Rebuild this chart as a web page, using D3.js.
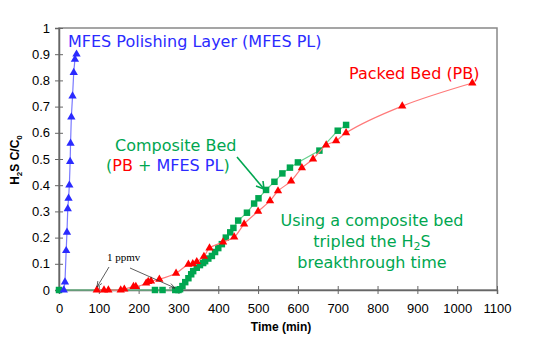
<!DOCTYPE html>
<html><head><meta charset="utf-8">
<script src="https://cdn.jsdelivr.net/npm/d3@7"></script>
<style>body{margin:0;background:#fff}svg{display:block}</style>
</head><body>
<script>
const xTicks = [0,100,200,300,400,500,600,700,800,900,1000,1100];
const yTicks = [0,0.1,0.2,0.3,0.4,0.5,0.6,0.7,0.8,0.9,1];
const mfesTime = [12,15,18,20,22,24,26,28,29,31,34,37,40,44];
const mfesC = [0,0.03,0.15,0.22,0.31,0.35,0.40,0.49,0.56,0.66,0.74,0.83,0.88,0.90];
const pbTime = [95,113,124,155,164,187,193,219,224,231,252,294,325,336,346,364,378,412,440,465,500,530,550,583,610,638,671,696,721,862,1038];
const pbC = [0,0,0,0,0.003,0.013,0.013,0.026,0.032,0.034,0.041,0.064,0.098,0.10,0.108,0.128,0.16,0.183,0.202,0.252,0.30,0.34,0.378,0.416,0.466,0.50,0.553,0.569,0.60,0.702,0.79];
const compTime = [0,241,260,292,300,304,310,317,325,332,337,346,354,362,367,375,384,392,400,409,419,430,438,450,472,490,501,520,541,561,580,600,654,700,721];
const compC = [0,0,0,0,0,0.003,0.015,0.03,0.045,0.06,0.072,0.085,0.095,0.103,0.11,0.12,0.13,0.145,0.16,0.175,0.2,0.22,0.237,0.265,0.295,0.33,0.35,0.382,0.413,0.445,0.467,0.487,0.532,0.608,0.63];

const W=537,H=349;
const svg=d3.select("body").append("svg").attr("width",W).attr("height",H);
const x=d3.scaleLinear().domain([0,1100]).range([59,497]);
const y=d3.scaleLinear().domain([0,1]).range([290,28]);
const axisCol="#666";
const font="Liberation Sans, Arial, sans-serif";
const vfont="DejaVu Sans, Verdana, sans-serif";

// frame
svg.append("rect").attr("x",59).attr("y",28).attr("width",438).attr("height",262)
  .attr("fill","none").attr("stroke","#888").attr("stroke-width",1.5);

const xa=svg.append("g").attr("transform","translate(0,290)")
  .call(d3.axisBottom(x).tickValues(xTicks).tickSize(4).tickFormat(d3.format("d")));
xa.selectAll(".tick line").attr("y1",-4).attr("y2",4);
const ya=svg.append("g").attr("transform","translate(59,0)")
  .call(d3.axisLeft(y).tickValues(yTicks).tickSize(4).tickFormat(d=>d3.format("")(+d.toFixed(1))));
ya.selectAll(".tick line").attr("x1",-4).attr("x2",4);
[xa,ya].forEach(a=>{
  a.select(".domain").attr("stroke",axisCol).attr("stroke-width",1.5);
  a.selectAll(".tick line").attr("stroke",axisCol).attr("stroke-width",1);
  a.selectAll("text").attr("fill","#000").attr("font-family",font).attr("font-size",13);
});
xa.selectAll("text").attr("dy","1.2em");
ya.selectAll("text").attr("x",-9);

// axis titles
svg.append("text").attr("x",281).attr("y",331).attr("text-anchor","middle")
  .attr("font-family",font).attr("font-weight","bold").attr("font-size",12).text("Time (min)");
const yl=svg.append("text").attr("transform","translate(19,160) rotate(-90)").attr("text-anchor","middle")
  .attr("font-family",font).attr("font-weight","bold").attr("font-size",12);
yl.append("tspan").text("H");
yl.append("tspan").attr("font-size",8).attr("dy",3).text("2");
yl.append("tspan").attr("dy",-3).text("S C/C");
yl.append("tspan").attr("font-size",8).attr("dy",3).text("0");

function series(tArr,cArr,lineCol,markCol,shape,curve){
  const pts=tArr.map((t,i)=>[t,cArr[i]]);
  svg.append("path").datum(pts).attr("fill","none").attr("stroke",lineCol).attr("stroke-width",1.2)
    .attr("d",d3.line().x(d=>x(d[0])).y(d=>y(d[1])).curve(curve));
  const sym=d3.symbol().type(shape).size(shape===d3.symbolSquare?42:30);
  svg.append("g").selectAll("path").data(pts).join("path")
    .attr("transform",d=>`translate(${x(d[0])},${y(d[1])})`).attr("d",sym).attr("fill",markCol);
}
series(compTime,compC,"#66d08c","#00a650",d3.symbolSquare,d3.curveLinear);
series(pbTime,pbC,"#ff7a7a","#ff0000",d3.symbolTriangle,d3.curveCatmullRom);
series(mfesTime,mfesC,"#7a7aff","#2b2bff",d3.symbolTriangle,d3.curveLinear);

// annotations
const fs=16;
svg.append("text").attr("x",68).attr("y",47).attr("fill","#2b2bff").attr("font-family",vfont).attr("font-size",fs)
  .text("MFES Polishing Layer (MFES PL)");
svg.append("text").attr("x",349).attr("y",79).attr("fill","#ff0000").attr("font-family",vfont).attr("font-size",fs)
  .text("Packed Bed (PB)");
svg.append("text").attr("x",115).attr("y",151).attr("fill","#00a650").attr("font-family",vfont).attr("font-size",fs)
  .text("Composite Bed");
const t2=svg.append("text").attr("x",106).attr("y",171).attr("font-family",vfont).attr("font-size",fs);
t2.append("tspan").attr("fill","#00a650").text("(");
t2.append("tspan").attr("fill","#ff0000").text("PB");
t2.append("tspan").attr("fill","#00a650").text(" + ");
t2.append("tspan").attr("fill","#2b2bff").text("MFES PL");
t2.append("tspan").attr("fill","#00a650").text(")");
const msg=["Using a composite bed","tripled the H2S","breakthrough time"];
msg.forEach((m,i)=>{
  const t=svg.append("text").attr("x",372).attr("y",226+i*21).attr("text-anchor","middle")
    .attr("fill","#00a650").attr("font-family",vfont).attr("font-size",fs);
  if(m.includes("H2S")){
    t.append("tspan").text("tripled the H");
    t.append("tspan").attr("font-size",11).attr("dy",3).text("2");
    t.append("tspan").attr("dy",-3).text("S");
  } else t.text(m);
});
// composite arrow
svg.append("path").attr("d","M237,157 L264,189").attr("stroke","#00a650").attr("stroke-width",1.6).attr("fill","none");
svg.append("path").attr("d","M264,189 L256,186 M264,189 L263,181").attr("stroke","#00a650").attr("stroke-width",1.6).attr("fill","none");

// 1 ppmv
svg.append("text").attr("x",107).attr("y",261).attr("font-family","Liberation Serif, Times New Roman, serif").attr("font-size",11)
  .text("1 ppmv");
function arrow(x1,y1,x2,y2){
  svg.append("line").attr("x1",x1).attr("y1",y1).attr("x2",x2).attr("y2",y2).attr("stroke","#333").attr("stroke-width",0.8);
  const a=Math.atan2(y2-y1,x2-x1),l=6,s=0.4;
  svg.append("path").attr("d",`M${x2},${y2} L${x2-l*Math.cos(a-s)},${y2-l*Math.sin(a-s)} M${x2},${y2} L${x2-l*Math.cos(a+s)},${y2-l*Math.sin(a+s)}`)
    .attr("stroke","#333").attr("stroke-width",0.8).attr("fill","none");
}
arrow(109,267,97,287);
arrow(130,268,175,288);
</script>
</body></html>
